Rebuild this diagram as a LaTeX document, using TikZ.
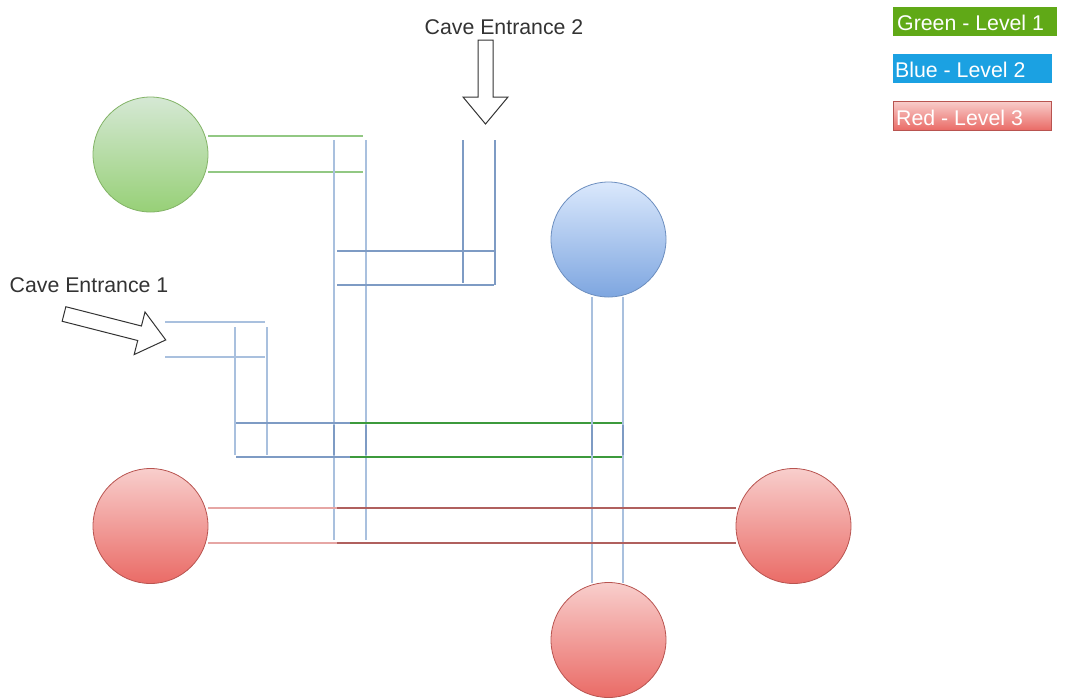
\documentclass[tikz,border=0pt]{standalone}
\usepackage{fontspec}
\setmainfont{Liberation Sans}
\definecolor{gFill1}{HTML}{D5E8D4}
\definecolor{gFill2}{HTML}{97D077}
\definecolor{gLine}{HTML}{82B366}
\definecolor{bFill1}{HTML}{DAE8FC}
\definecolor{bFill2}{HTML}{7EA6E0}
\definecolor{bLine}{HTML}{6C8EBF}
\definecolor{rFill1}{HTML}{F8CECC}
\definecolor{rFill2}{HTML}{EA6B66}
\definecolor{rLine}{HTML}{B85450}
\definecolor{wallBlueLight}{HTML}{A9C0DE}
\definecolor{wallBlue}{HTML}{7E9BC4}
\definecolor{wallGreenLight}{HTML}{92C883}
\definecolor{wallGreen}{HTML}{3C9A3C}
\definecolor{wallRedLight}{HTML}{E6A6A4}
\definecolor{wallRed}{HTML}{B0605E}
\definecolor{legGreen}{HTML}{60A917}
\definecolor{legBlue}{HTML}{1BA1E2}
\definecolor{labelText}{HTML}{333333}
\begin{document}
\begin{tikzpicture}[x=1pt,y=-1pt,
  room/.style={circle, minimum size=115pt, inner sep=0pt, line width=0.8pt},
  greenroom/.style={room, draw=gLine, top color=gFill1, bottom color=gFill2},
  blueroom/.style={room, draw=bLine, top color=bFill1, bottom color=bFill2},
  redroom/.style={room, draw=rLine, top color=rFill1, bottom color=rFill2},
  wall/.style={line width=1.6pt},
  bwall/.style={wall, draw=wallBlueLight},
  bwalldark/.style={line width=1.3pt, draw=wallBlue},
  gwall/.style={wall, draw=wallGreenLight},
  gwalldark/.style={line width=1.3pt, draw=wallGreen},
  rwall/.style={wall, draw=wallRedLight},
  rwalldark/.style={line width=1.3pt, draw=wallRed},
  bigarrow/.style={draw=black!80, fill=white, line width=1pt, line join=miter},
  label/.style={text=labelText, font=\fontsize{21.3}{25}\selectfont, inner sep=0pt},
  legend/.style={anchor=west, text=white, font=\fontsize{21.3}{25}\selectfont,
    inner xsep=0pt, inner ysep=0pt, minimum height=29pt, text depth=0pt, align=left}
]
\useasboundingbox (0,0) rectangle (1066,697);

% rooms
\node[greenroom] (gr)  at (150.5,154.5) {};
\node[blueroom]  (br)  at (608.5,239.5) {};
\node[redroom]   (rl)  at (150.5,526)   {};
\node[redroom]   (rr)  at (793.5,526)   {};
\node[redroom]   (rb)  at (608.5,640)   {};

% level 1 passage from the green room
\draw[gwall] (gr.east |- 0,136) -- (363,136);
\draw[gwall] (gr.east |- 0,172) -- (363,172);

% long level 2 shaft
\draw[bwall] (334,140) -- (334,540);
\draw[bwall] (366,140) -- (366,540);

% passage from entrance 2
\draw[bwalldark] (463,140) -- (463,283);
\draw[bwalldark] (495,140) -- (495,285);
\draw[bwalldark] (337,251) -- (494,251);
\draw[bwalldark] (337,285) -- (494,285);

% passage from entrance 1
\draw[bwall] (165,322) -- (265,322);
\draw[bwall] (165,357) -- (265,357);
\draw[bwall] (235,327) -- (235,455);
\draw[bwall] (267,327) -- (267,455);
\draw[bwalldark] (236,423) -- (350,423);
\draw[bwalldark] (236,457) -- (350,457);
\draw[gwalldark] (350,423) -- (622,423);
\draw[gwalldark] (350,457) -- (622,457);

% level 2 passage below the blue room
\draw[bwall] (592,297) -- (592,583);
\draw[bwall] (623,297) -- (623,583);
\foreach \x in {334,366,592,623}
  \draw[line width=1.2pt, draw=wallBlue] (\x,425) -- (\x,455);

% level 3 passage between the red rooms
\draw[rwall] (rl.east |- 0,508) -- (337,508);
\draw[rwall] (rl.east |- 0,543) -- (337,543);
\draw[rwalldark] (337,508) -- (rr.west |- 0,508);
\draw[rwalldark] (337,543) -- (rr.west |- 0,543);

% cave entrance 2
\node[label] (e2) at (504,27) {Cave Entrance 2};
\draw[bigarrow] (478,40) -- (493,40) -- (493,97) -- (508,97) -- (485.5,124)
  -- (463,97) -- (478,97) -- cycle;

% cave entrance 1
\node[label] (e1) at (89,285) {Cave Entrance 1};
\begin{scope}[shift={(64,314)}, rotate=-14.3]
  \draw[bigarrow] (0,-7.5) -- (78,-7.5) -- (78,-22) -- (105,0) -- (78,22)
    -- (78,7.5) -- (0,7.5) -- cycle;
\end{scope}

% legend boxes
\path[fill=legGreen] (893,7) rectangle (1057,36);
\path[fill=legBlue] (893,54) rectangle (1052,83);
\draw[rLine, line width=0.8pt, top color=rFill1, bottom color=rFill2] (893,101) rectangle (1051,130);
\node[legend] (lg) at (897,23) {Green - Level 1};
\node[legend] (lb) at (895,70) {Blue - Level 2};
\node[legend] (lr) at (896,117.5) {Red - Level 3};
\end{tikzpicture}
\end{document}
